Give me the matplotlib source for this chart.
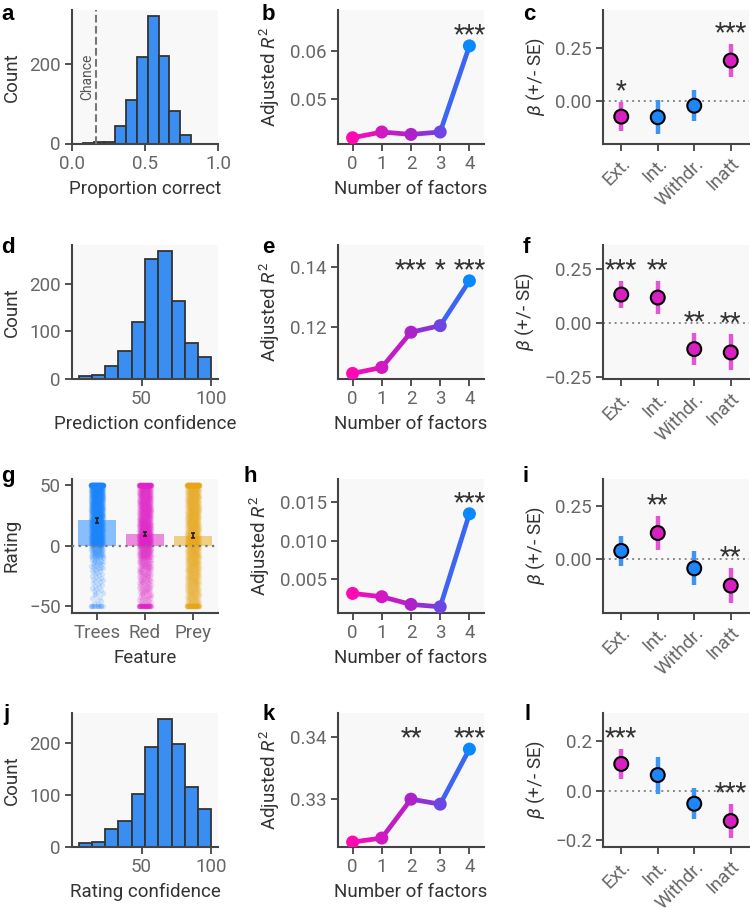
import numpy as np
import matplotlib
matplotlib.use("Agg")
from matplotlib import pyplot as plt
from matplotlib.colors import to_rgb

plt.rcParams["font.family"] = ["Roboto", "DejaVu Sans"]
plt.rcParams["mathtext.fontset"] = "custom"
plt.rcParams["mathtext.rm"] = "Roboto"
plt.rcParams["mathtext.it"] = "Roboto:italic"
plt.rcParams["axes.formatter.useoffset"] = False

# ---- data ----
# histograms (bin edges + counts)
prop_edges = [2 / 27, 4 / 27, 6 / 27, 8 / 27, 10 / 27, 12 / 27, 14 / 27, 16 / 27, 18 / 27, 20 / 27, 22 / 27]
prop_counts = [2, 3, 5, 43, 110, 216, 318, 220, 82, 22]
chance_level = 1 / 6

conf_edges = [5, 14.5, 24, 33.5, 43, 52.5, 62, 71.5, 81, 90.5, 100]
pred_conf_counts = [5, 8, 27, 58, 119, 253, 270, 164, 76, 45]
rating_conf_counts = [7, 8, 33, 50, 102, 192, 245, 197, 114, 73]

# adjusted R^2 vs number of factors
n_factors = [0, 1, 2, 3, 4]
r2_b = [0.0418, 0.0430, 0.0425, 0.0430, 0.0610]
r2_e = [0.1043, 0.1063, 0.1181, 0.1203, 0.1353]
r2_h = [0.00313, 0.00270, 0.00170, 0.00139, 0.01348]
r2_k = [0.32314, 0.32378, 0.3300, 0.3292, 0.3380]
stars_b = {4: "***"}
stars_e = {2: "***", 3: "*", 4: "***"}
stars_h = {4: "***"}
stars_k = {2: "**", 4: "***"}

# betas per factor
factors = ["Ext.", "Int.", "Withdr.", "Inatt"]
beta_c = [-0.076, -0.079, -0.024, 0.191]
se_c = [0.070, 0.080, 0.073, 0.078]
sig_c = ["*", "", "", "***"]
beta_f = [0.130, 0.116, -0.122, -0.1375]
se_f = [0.064, 0.078, 0.072, 0.083]
sig_f = ["***", "**", "**", "**"]
beta_i = [0.038, 0.123, -0.045, -0.127]
se_i = [0.070, 0.082, 0.081, 0.085]
sig_i = ["", "**", "", "**"]
beta_l = [0.109, 0.064, -0.052, -0.122]
se_l = [0.059, 0.075, 0.062, 0.068]
sig_l = ["***", "", "", "***"]

# feature ratings
features = ["Trees", "Red", "Prey"]
feature_means = [21.1, 9.9, 8.2]
feature_se = [2.0, 1.8, 2.0]
rating_bin_edges = [-50, -40, -30, -20, -10, 0, 10, 20, 30, 40, 50]
# estimated counts of ratings in each bin, plus ratings exactly at the scale ends
trees_bin_counts = [8, 12, 15, 25, 50, 120, 110, 120, 120, 130]
red_bin_counts = [25, 30, 35, 45, 70, 110, 90, 80, 80, 80]
prey_bin_counts = [45, 50, 55, 60, 65, 80, 70, 70, 70, 70]
end_counts = {"Trees": (12, 160), "Red": (40, 80), "Prey": (50, 110)}

# ---- styling ----
FIG_W, FIG_H = 750, 908
COL_LEFT = [72, 338, 603]
ROW_TOP = [10, 245, 479, 713]
AX_W, AX_H = 146, 133.5

FACE = "#f8f8f8"
SPINE = "#444444"
TEXT = "#333333"
TICK_TXT = "#666666"
HIST_BLUE = "#3a8ef2"
GRAD = ["#ff0ab2", "#d218c2", "#ac22c8", "#6e44e2", "#0a88ff"]
SIG_FILL, SIG_ERR = "#d81fbf", "#e455d6"
NS_FILL, NS_ERR = "#1d86fb", "#3a95f5"
FEATURE_COLORS = ["#1a85ff", "#e020c8", "#e8a614"]
FS = 13.5
STAR_FS = 18
STAR_OFF = 2.8

fig = plt.figure(figsize=(FIG_W / 100, FIG_H / 100), dpi=100)


def add_ax(col, row):
    rect = [COL_LEFT[col] / FIG_W, 1 - (ROW_TOP[row] + AX_H) / FIG_H, AX_W / FIG_W, AX_H / FIG_H]
    ax = fig.add_axes(rect)
    ax.set_facecolor(FACE)
    for s in ("top", "right"):
        ax.spines[s].set_visible(False)
    for s in ("left", "bottom"):
        ax.spines[s].set_color(SPINE)
        ax.spines[s].set_linewidth(1.5)
    ax.tick_params(length=5, width=1.3, color=SPINE, labelcolor=TICK_TXT, labelsize=FS, pad=3)
    return ax


def labels(ax, xlabel, ylabel):
    ax.set_xlabel(xlabel, fontsize=FS, color=TEXT, labelpad=5)
    ax.set_ylabel(ylabel, fontsize=FS, color=TEXT, labelpad=6)


def hist_panel(ax, edges, counts, xlabel):
    edges = np.asarray(edges)
    ax.bar(edges[:-1], counts, width=np.diff(edges), align="edge", color=HIST_BLUE,
           edgecolor="#333333", linewidth=1.3)
    labels(ax, xlabel, "Count")


def mix(c1, c2):
    a, b = np.array(to_rgb(c1)), np.array(to_rgb(c2))
    return tuple((a + b) / 2)


def r2_panel(ax, values, stars, ylim, yticks):
    for i in range(len(values) - 1):
        ax.plot(n_factors[i:i + 2], values[i:i + 2], color=mix(GRAD[i], GRAD[i + 1]),
                lw=3.4, solid_capstyle="round", zorder=2)
    ax.scatter(n_factors, values, s=88, c=GRAD, zorder=3, linewidths=0)
    top = max(values)
    for i, s in stars.items():
        ax.annotate(s, (n_factors[i], top), xytext=(0, STAR_OFF), textcoords="offset points",
                    ha="center", va="baseline", fontsize=STAR_FS, color=TEXT)
    ax.set_xlim(-0.5, 4.5)
    ax.set_ylim(*ylim)
    ax.set_xticks(n_factors)
    ax.set_yticks(yticks)
    labels(ax, "Number of factors", "Adjusted $R^2$")


def beta_panel(ax, means, ses, sigs, ylim, yticks):
    x = np.arange(len(means))
    means, ses = np.asarray(means), np.asarray(ses)
    ax.axhline(0, color="#888888", ls=(0, (1, 2)), lw=1.4, zorder=1)
    sig = [s != "" for s in sigs]
    ax.vlines(x, means - ses, means + ses, colors=[SIG_ERR if s else NS_ERR for s in sig],
              lw=3.2, zorder=2)
    ax.scatter(x, means, s=100, c=[SIG_FILL if s else NS_FILL for s in sig],
               edgecolors="black", linewidths=1.5, zorder=3)
    for xi, m, se, st in zip(x, means, ses, sigs):
        if st:
            ax.annotate(st, (xi, m + se), xytext=(0, STAR_OFF), textcoords="offset points",
                        ha="center", va="baseline", fontsize=STAR_FS, color=TEXT)
    ax.set_xlim(-0.5, 3.5)
    ax.set_ylim(*ylim)
    ax.set_yticks(yticks)
    ax.set_xticks(x)
    ax.set_xticklabels(factors, rotation=45, ha="right", rotation_mode="anchor")
    ax.set_ylabel(r"$\beta$ (+/- SE)", fontsize=FS, color=TEXT, labelpad=6)


def strip_positions(pos, bin_counts, ends):
    xs, ys = [], []
    golden = 0.6180339887
    jit = 0.13
    for j, n in enumerate(bin_counts):
        lo, hi = rating_bin_edges[j], rating_bin_edges[j + 1]
        k = np.arange(n)
        ys.append(lo + (k + 0.5) / n * (hi - lo))
        xs.append(pos + ((k * golden + j * 0.37) % 1 - 0.5) * 2 * jit)
    for val, n in zip((-50, 50), ends):
        k = np.arange(n)
        ys.append(np.full(n, val))
        xs.append(pos + ((k * golden) % 1 - 0.5) * 2 * jit)
    return np.concatenate(xs), np.concatenate(ys)


# ---- panels ----
ax_a = add_ax(0, 0)
hist_panel(ax_a, prop_edges, prop_counts, "Proportion correct")
ax_a.set_xlim(0, 1)
ax_a.set_xticks([0, 0.5, 1.0])
ax_a.set_yticks([0, 200])
ax_a.axvline(chance_level, color="#777777", ls="--", lw=1.5, zorder=3)
ax_a.text(chance_level - 0.015, 0.5, "Chance", transform=ax_a.get_xaxis_transform(),
          rotation=90, ha="right", va="center", fontsize=10, color="#555555")

ax_b = add_ax(1, 0)
r2_panel(ax_b, r2_b, stars_b, (0.0406, 0.0685), [0.05, 0.06])

ax_c = add_ax(2, 0)
beta_panel(ax_c, beta_c, se_c, sig_c, (-0.204, 0.432), [0.0, 0.25])

ax_d = add_ax(0, 1)
hist_panel(ax_d, conf_edges, pred_conf_counts, "Prediction confidence")
ax_d.set_xticks([50, 100])
ax_d.set_yticks([0, 100, 200])

ax_e = add_ax(1, 1)
r2_panel(ax_e, r2_e, stars_e, (0.1026, 0.1473), [0.12, 0.14])

ax_f = add_ax(2, 1)
beta_panel(ax_f, beta_f, se_f, sig_f, (-0.258, 0.359), [-0.25, 0.0, 0.25])

ax_g = add_ax(0, 2)
feat_x = np.arange(len(features))
ax_g.bar(feat_x, feature_means, width=0.8, color=FEATURE_COLORS, alpha=0.5, zorder=1)
for pos, counts, name, col in zip(feat_x, [trees_bin_counts, red_bin_counts, prey_bin_counts],
                                  features, FEATURE_COLORS):
    px, py = strip_positions(pos, counts, end_counts[name])
    ax_g.scatter(px, py, s=15, color=col, alpha=0.17, linewidths=0, zorder=2)
ax_g.axhline(0, color="#777777", ls=(0, (1, 2)), lw=1.6, zorder=3)
ax_g.errorbar(feat_x, feature_means, yerr=feature_se, fmt="none", ecolor="#222222",
              elinewidth=1.2, capsize=1.5, capthick=1.2, zorder=4)
ax_g.set_xlim(-0.52, 2.52)
ax_g.set_ylim(-55, 55)
ax_g.set_xticks(feat_x)
ax_g.set_xticklabels(features)
ax_g.set_yticks([-50, 0, 50])
labels(ax_g, "Feature", "Rating")

ax_h = add_ax(1, 2)
r2_panel(ax_h, r2_h, stars_h, (0.00065, 0.0180), [0.005, 0.010, 0.015])

ax_i = add_ax(2, 2)
beta_panel(ax_i, beta_i, se_i, sig_i, (-0.255, 0.38), [0.0, 0.25])

ax_j = add_ax(0, 3)
hist_panel(ax_j, conf_edges, rating_conf_counts, "Rating confidence")
ax_j.set_xticks([50, 100])
ax_j.set_yticks([0, 100, 200])

ax_k = add_ax(1, 3)
r2_panel(ax_k, r2_k, stars_k, (0.32243, 0.34378), [0.33, 0.34])

ax_l = add_ax(2, 3)
beta_panel(ax_l, beta_l, se_l, sig_l, (-0.225, 0.315), [-0.2, 0.0, 0.2])

# panel letters (x, baseline in pixels)
letters = [("a", 1, 20), ("b", 262, 20), ("c", 523, 20),
           ("d", 1, 253), ("e", 262, 253), ("f", 523, 253),
           ("g", 1, 482), ("h", 244, 482), ("i", 523, 482),
           ("j", 3, 720), ("k", 262, 720), ("l", 525, 720)]
for letter, px, py in letters:
    fig.text(px / FIG_W, 1 - py / FIG_H, letter, fontsize=16, fontweight="bold",
             family="Liberation Sans", color="black", ha="left", va="baseline")

fig.savefig("out.png", dpi=100, facecolor="white")
